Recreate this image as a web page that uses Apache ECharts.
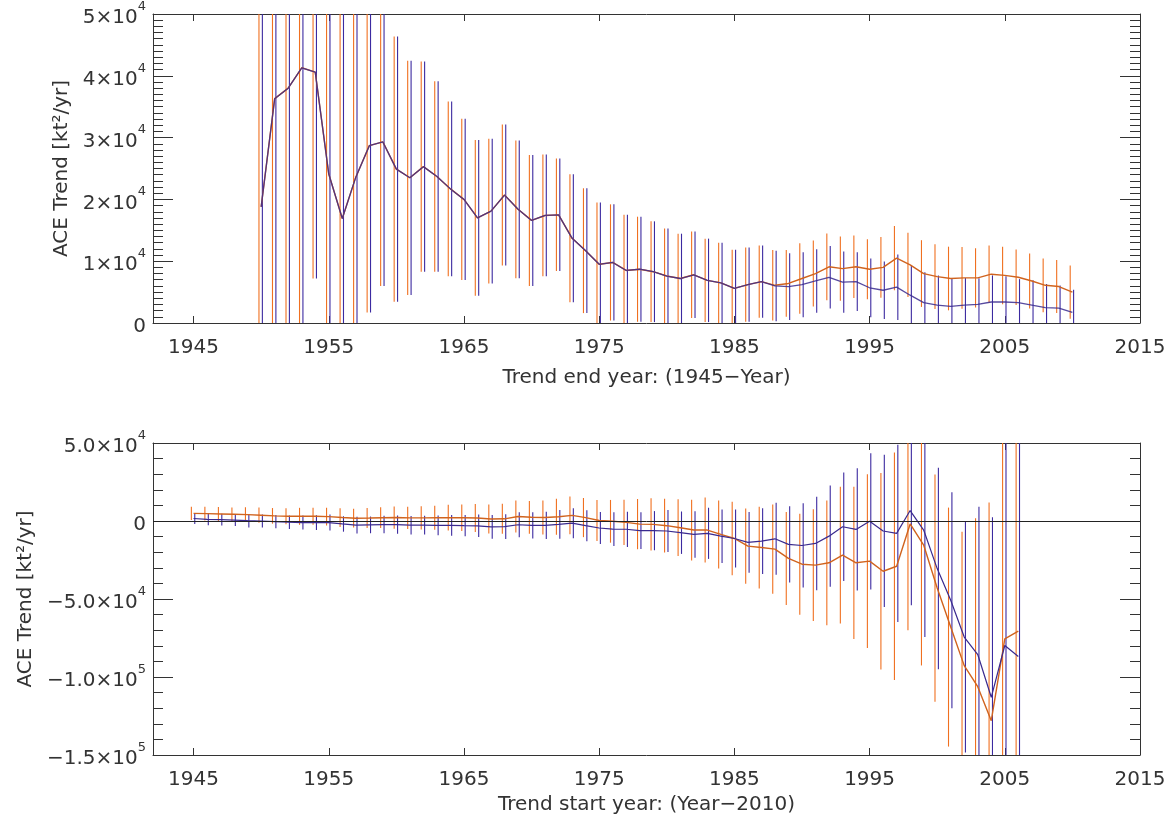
<!DOCTYPE html>
<html>
<head>
<meta charset="utf-8">
<script src="https://cdn.jsdelivr.net/npm/echarts@6/dist/echarts.min.js"></script>
<style>
html,body{margin:0;padding:0;background:#fff;}
#chart{width:1172px;height:818px;}
</style>
</head>
<body>
<div id="chart"></div>
<script>
// ---------- DATA ----------
var xTicks = [1945, 1955, 1965, 1975, 1985, 1995, 2005, 2015];

// Top panel: trend end year (1945-Year)
var endYears = [1950,1951,1952,1953,1954,1955,1956,1957,1958,1959,1960,1961,1962,1963,1964,1965,1966,1967,1968,1969,1970,1971,1972,1973,1974,1975,1976,1977,1978,1979,1980,1981,1982,1983,1984,1985,1986,1987,1988,1989,1990,1991,1992,1993,1994,1995,1996,1997,1998,1999,2000,2001,2002,2003,2004,2005,2006,2007,2008,2009,2010];
var endOrange = [18800,36300,38000,41300,40600,24100,16900,23600,28700,29300,24900,23500,25300,23700,21700,20000,17000,18100,20700,18400,16600,17400,17500,13700,11700,9500,9800,8500,8700,8300,7600,7200,7800,6900,6500,5600,6200,6700,6100,6400,7200,8000,9100,8800,9100,8700,9000,10500,9400,8000,7500,7200,7300,7300,7900,7700,7400,6800,6100,5900,5000];
var endBlue = [18800,36300,38000,41300,40600,24100,16900,23600,28700,29300,24900,23500,25300,23700,21700,20000,17000,18100,20700,18400,16600,17400,17500,13700,11700,9500,9800,8500,8700,8300,7600,7200,7800,6900,6500,5600,6200,6700,6000,5900,6200,6800,7400,6600,6700,5700,5300,5800,4500,3300,2900,2700,2900,3000,3400,3400,3300,2900,2500,2400,1700];
var endOrangeErr = [40000,42000,43000,45000,33400,27000,35000,28000,27000,23300,21450,18950,17000,15400,14150,13050,12600,11700,11400,11150,10600,9850,9100,10350,10100,10000,9400,9000,8500,8150,7700,7250,7000,6750,6500,6250,6000,5850,5700,5400,5700,5350,5400,5200,5050,4850,4900,5200,5200,5400,5250,5150,5000,4800,4650,4650,4500,4450,4350,4300,4300];
var endBlueErr = [40000,42000,43000,45000,33400,27000,35000,28000,27000,23300,21450,18950,17000,15400,14150,13050,12600,11700,11400,11150,10600,9850,9100,10350,10100,10000,9400,9000,8500,8150,7700,7250,7000,6750,6500,6250,6000,5850,5700,5400,5250,5150,5050,4950,4750,4750,4650,5300,4850,4900,4800,4450,4400,4250,4300,4150,3800,4000,3800,3650,3700];

// Bottom panel: trend start year (Year-2010)
var startYears = [1945,1946,1947,1948,1949,1950,1951,1952,1953,1954,1955,1956,1957,1958,1959,1960,1961,1962,1963,1964,1965,1966,1967,1968,1969,1970,1971,1972,1973,1974,1975,1976,1977,1978,1979,1980,1981,1982,1983,1984,1985,1986,1987,1988,1989,1990,1991,1992,1993,1994,1995,1996,1997,1998,1999,2000,2001,2002,2003,2004,2005,2006];
var startOrange = [4900,4700,4500,4300,4100,3700,3300,3000,3000,3000,2800,2200,1800,1900,2100,2200,2000,2000,2100,2100,2100,1900,1300,1400,2900,2400,2200,2700,3600,2200,300,-200,-900,-2000,-2150,-3000,-4300,-5800,-5800,-8600,-11200,-16100,-17000,-18000,-24000,-27700,-28300,-26800,-21900,-26800,-25700,-32200,-29000,-1900,-15400,-43000,-68000,-92700,-106200,-128000,-75500,-70600];
var startBlue = [1600,1100,900,600,200,0,-400,-800,-1000,-1000,-1000,-1900,-2700,-2500,-2300,-2300,-2700,-2700,-2800,-2800,-3000,-3100,-3800,-3600,-2400,-2800,-2800,-2200,-1400,-3000,-4500,-5200,-5300,-6200,-6200,-6400,-7500,-8600,-7900,-9700,-11200,-13700,-12900,-11400,-15000,-15700,-14400,-9700,-3700,-5400,-200,-6400,-7900,6700,-5800,-30500,-50800,-74400,-85600,-113000,-79800,-86900];
var startOrangeErr = [4300,4400,4500,4300,4700,4900,5000,5150,5450,5450,5700,6000,6000,6400,6650,7100,7200,7400,7700,8250,8450,9000,9300,9650,10200,10500,10900,11500,12100,12550,13100,13700,14500,16100,16800,17200,18200,19500,20800,21800,23500,24100,26200,28600,29800,32400,35800,40000,43800,48800,55700,63000,72900,68200,77200,72800,76600,85800,107900,139900,160000,170000];
var startBlueErr = [3550,3750,3750,3850,4300,4100,4300,4400,4500,4700,5150,4950,5350,5350,5600,5900,5900,6000,6350,6650,6850,7200,7600,7950,7950,8450,8700,9200,9650,9950,10300,10750,11300,11800,12550,13500,13600,14900,16400,17150,18550,19500,21100,23050,24450,27000,30000,32400,34750,39150,43650,48800,56800,60700,68600,64600,69300,74000,94800,115400,140000,150000];

var topYTicks = [0, 10000, 20000, 30000, 40000, 50000];
var topYLabels = ['{n|0}', '{n|1×10}{s|4}', '{n|2×10}{s|4}', '{n|3×10}{s|4}', '{n|4×10}{s|4}', '{n|5×10}{s|4}'];
var botYTicks = [-150000, -100000, -50000, 0, 50000];
var botYLabels = ['{n|−1.5×10}{s|5}', '{n|−1.0×10}{s|5}', '{n|−5.0×10}{s|4}', '{n|0}', '{n|5.0×10}{s|4}'];

// ---------- STYLE ----------
var FONT = 'DejaVu Sans';
var TXT = '#333';
var AX = '#333';
var ORANGE_BAR = '#f07020';
var BLUE_BAR = '#3c2aa0';
var ORANGE_LINE = '#d0631e';
var BLUE_LINE = '#3a2a8e';

function zip3(xs, vs, es) {
  var out = [];
  for (var i = 0; i < xs.length; i++) out.push([xs[i], vs[i], es[i]]);
  return out;
}
function zip2(xs, vs) {
  var out = [];
  for (var i = 0; i < xs.length; i++) out.push([xs[i], vs[i]]);
  return out;
}
function errRender(offset) {
  return function (params, api) {
    var x = api.value(0), v = api.value(1), e = api.value(2);
    var p1 = api.coord([x, v + e]);
    var p2 = api.coord([x, v - e]);
    var cs = params.coordSys;
    var top = cs.y, bot = cs.y + cs.height;
    var y1 = Math.max(top, Math.min(bot, p1[1]));
    var y2 = Math.max(top, Math.min(bot, p2[1]));
    if (Math.abs(y2 - y1) < 0.1) return null;
    return {
      type: 'line',
      shape: { x1: p1[0] + offset, y1: y1, x2: p1[0] + offset, y2: y2 },
      style: { stroke: api.visual('color'), lineWidth: 1.1 }
    };
  };
}
function labelFrom(ticks, labels) {
  return function (v) {
    for (var i = 0; i < ticks.length; i++) if (Math.abs(ticks[i] - v) < 1e-6) return labels[i];
    return '';
  };
}

var richSup = {
  n: { fontSize: 20, fontFamily: FONT, color: TXT, lineHeight: 28, verticalAlign: 'bottom' },
  s: { fontSize: 13, fontFamily: FONT, color: TXT, lineHeight: 28, verticalAlign: 'top' }
};

function xAxisDef(gridIndex, pos, showLabel, name, nameGap, margin) {
  return {
    type: 'value', gridIndex: gridIndex, position: pos, min: 1942, max: 2015,
    splitLine: { show: false },
    axisLine: { show: true, onZero: false, lineStyle: { color: AX, width: 1 } },
    axisTick: { show: true, inside: true, length: 7, customValues: xTicks, lineStyle: { color: AX } },
    axisLabel: { show: showLabel, customValues: xTicks, margin: margin, fontFamily: FONT, fontSize: 20, color: TXT,
                 formatter: function (v) { return String(v); } },
    name: name, nameLocation: 'middle', nameGap: nameGap,
    nameTextStyle: { fontFamily: FONT, fontSize: 20, color: TXT }
  };
}
function yAxisDef(gridIndex, pos, showLabel, min, max, interval, minorSplit, ticks, labels, name) {
  return {
    type: 'value', gridIndex: gridIndex, position: pos, min: min, max: max, interval: interval,
    splitLine: { show: false },
    axisLine: { show: true, onZero: false, lineStyle: { color: AX, width: 1 } },
    axisTick: { show: true, inside: true, length: 20, lineStyle: { color: AX } },
    minorTick: { show: true, splitNumber: minorSplit, length: 10, lineStyle: { color: AX } },
    axisLabel: { show: showLabel, margin: 7, fontFamily: FONT, fontSize: 20, color: TXT,
                 formatter: labelFrom(ticks, labels), rich: richSup },
    name: name, nameLocation: 'middle', nameGap: 80, nameRotate: 90,
    nameTextStyle: { fontFamily: FONT, fontSize: 20, color: TXT }
  };
}

var chart = echarts.init(document.getElementById('chart'), null, { renderer: 'canvas' });
var option = {
  animation: false,
  backgroundColor: '#fff',
  grid: [
    { left: 153, right: 32, top: 13, height: 310, containLabel: false },
    { left: 153, right: 32, top: 443, height: 312, containLabel: false }
  ],
  xAxis: [
    xAxisDef(0, 'bottom', true, 'Trend end year: (1945−Year)', 45, 15),
    xAxisDef(0, 'top', false, '', 0, 15),
    xAxisDef(1, 'bottom', true, 'Trend start year: (Year−2010)', 40, 15),
    xAxisDef(1, 'top', false, '', 0, 15)
  ],
  yAxis: [
    yAxisDef(0, 'left', true, 0, 50000, 10000, 10, topYTicks, topYLabels, 'ACE Trend [kt²/yr]'),
    yAxisDef(0, 'right', false, 0, 50000, 10000, 10, topYTicks, topYLabels, ''),
    yAxisDef(1, 'left', true, -150000, 50000, 50000, 5, botYTicks, botYLabels, 'ACE Trend [kt²/yr]'),
    yAxisDef(1, 'right', false, -150000, 50000, 50000, 5, botYTicks, botYLabels, '')
  ],
  series: [
    // top panel
    { type: 'custom', xAxisIndex: 0, yAxisIndex: 0, renderItem: errRender(-2.2), color: ORANGE_BAR,
      data: zip3(endYears, endOrange, endOrangeErr), encode: { x: 0, y: 1 }, silent: true, z: 2 },
    { type: 'custom', xAxisIndex: 0, yAxisIndex: 0, renderItem: errRender(1.2), color: BLUE_BAR,
      data: zip3(endYears, endBlue, endBlueErr), encode: { x: 0, y: 1 }, silent: true, z: 2 },
    { type: 'line', xAxisIndex: 0, yAxisIndex: 0, data: zip2(endYears, endOrange), showSymbol: false,
      lineStyle: { color: ORANGE_LINE, width: 1.4 }, itemStyle: { color: ORANGE_LINE }, z: 3, silent: true },
    { type: 'line', xAxisIndex: 0, yAxisIndex: 0, data: zip2(endYears, endBlue), showSymbol: false,
      lineStyle: { color: BLUE_LINE, width: 1.3, opacity: 0.85 }, itemStyle: { color: BLUE_LINE }, z: 4, silent: true },
    // bottom panel
    { type: 'custom', xAxisIndex: 2, yAxisIndex: 2, renderItem: errRender(-2.2), color: ORANGE_BAR,
      data: zip3(startYears, startOrange, startOrangeErr), encode: { x: 0, y: 1 }, silent: true, z: 2 },
    { type: 'custom', xAxisIndex: 2, yAxisIndex: 2, renderItem: errRender(1.2), color: BLUE_BAR,
      data: zip3(startYears, startBlue, startBlueErr), encode: { x: 0, y: 1 }, silent: true, z: 2 },
    { type: 'line', xAxisIndex: 2, yAxisIndex: 2, data: zip2(startYears, startOrange), showSymbol: false,
      lineStyle: { color: ORANGE_LINE, width: 1.4 }, itemStyle: { color: ORANGE_LINE }, z: 3, silent: true,
      markLine: { silent: true, symbol: 'none', label: { show: false },
                  lineStyle: { color: '#222', width: 1, type: 'solid' }, data: [{ yAxis: 0 }] } },
    { type: 'line', xAxisIndex: 2, yAxisIndex: 2, data: zip2(startYears, startBlue), showSymbol: false,
      lineStyle: { color: BLUE_LINE, width: 1.2 }, itemStyle: { color: BLUE_LINE }, z: 4, silent: true }
  ]
};
chart.setOption(option);
</script>
</body>
</html>
